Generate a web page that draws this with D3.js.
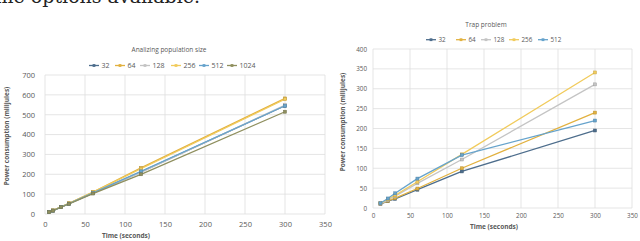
<!DOCTYPE html>
<html>
<head>
<meta charset="utf-8">
<script src="https://cdn.jsdelivr.net/npm/d3@7/dist/d3.min.js"></script>
<style>
  body { margin: 0; background: #fff; }
  svg text { font-family: "Open Sans", "Liberation Sans", sans-serif; fill: #595959; }
</style>
</head>
<body>
<div id="canvas"></div>
<script>
// left chart: analizing population size
var popTimes = [5, 10, 20, 30, 60, 120, 300];
var popNames = ["32", "64", "128", "256", "512", "1024"];
var pop32   = [9, 17, 35, 52, 105, 212, 545];
var pop64   = [9, 18, 36, 54, 110, 232, 582];
var pop128  = [9, 17, 35, 52, 106, 210, 548];
var pop256  = [9, 18, 36, 54, 110, 228, 578];
var pop512  = [9, 17, 35, 52, 106, 215, 545];
var pop1024 = [9, 17, 34, 51, 103, 200, 515];

// right chart: trap problem
var trapTimes = [10, 20, 30, 60, 120, 300];
var trapNames = ["32", "64", "128", "256", "512"];
var trap32  = [10, 17, 23, 46, 92, 195];
var trap64  = [11, 18, 25, 49, 100, 240];
var trap128 = [11, 20, 30, 62, 122, 311];
var trap256 = [12, 22, 32, 66, 135, 341];
var trap512 = [12, 24, 37, 74, 133, 220];

var xTicks = [0, 50, 100, 150, 200, 250, 300, 350];
var popYTicks = [0, 100, 200, 300, 400, 500, 600, 700];
var trapYTicks = [0, 50, 100, 150, 200, 250, 300, 350, 400];

var colors = {
  "32": "#4d6d8c", "64": "#e2b13f", "128": "#c4c4c4",
  "256": "#f1cb5c", "512": "#66a3cc", "1024": "#8f8f5e"
};

var svg = d3.select('#canvas').append('svg')
  .attr('width', 640)
  .attr('height', 241);

// cut-off line of body text above the figures
svg.append('text')
  .attr('x', 200).attr('y', 3)
  .attr('text-anchor', 'end')
  .style('font-family', '"DejaVu Serif", serif')
  .style('font-size', '19px')
  .style('fill', '#222')
  .text('some options available.');

var drawChart = function(opt) {
  var x = d3.scaleLinear().domain([0, 350]).range(opt.xr);
  var y = d3.scaleLinear().domain([0, opt.yMax]).range(opt.yr);
  var g = svg.append('g');

  // gridlines
  g.selectAll('.hg').data(opt.yTicks).enter().append('line')
    .attr('x1', opt.xr[0]).attr('x2', opt.xr[1])
    .attr('y1', function(d) { return y(d); })
    .attr('y2', function(d) { return y(d); })
    .attr('stroke', '#dedede').attr('stroke-width', 0.8);
  g.selectAll('.vg').data(xTicks).enter().append('line')
    .attr('y1', opt.yr[0]).attr('y2', opt.yr[1])
    .attr('x1', function(d) { return x(d); })
    .attr('x2', function(d) { return x(d); })
    .attr('stroke', '#dedede').attr('stroke-width', 0.8);

  // axes (labels only)
  var xa = g.append('g').attr('transform', 'translate(0,' + (opt.yr[0] + opt.xLabGap) + ')')
    .call(d3.axisBottom(x).tickValues(xTicks).tickSize(0));
  var ya = g.append('g').attr('transform', 'translate(' + (opt.xr[0] - opt.yLabGap) + ',0)')
    .call(d3.axisLeft(y).tickValues(opt.yTicks).tickSize(0));
  [xa, ya].forEach(function(a) {
    a.select('.domain').remove();
    a.selectAll('text').style('font-size', opt.tickSize + 'px')
      .style('font-family', '"Open Sans", sans-serif').attr('fill', '#595959');
  });

  // titles
  g.append('text').attr('x', opt.titleX).attr('y', opt.titleY)
    .attr('text-anchor', 'middle').style('font-size', '6.5px').text(opt.title);
  g.append('text').attr('x', opt.xTitleX).attr('y', opt.xTitleY)
    .attr('text-anchor', 'middle').style('font-size', '6.5px').style('font-weight', 'bold')
    .text('Time (seconds)');
  g.append('text')
    .attr('transform', 'translate(' + opt.yTitleX + ',' + opt.yTitleY + ') rotate(-90)')
    .attr('text-anchor', 'middle').style('font-size', '6.5px').style('font-weight', 'bold')
    .text('Power consumption (milijules)');

  // lines
  var line = d3.line()
    .x(function(d) { return x(d[0]); })
    .y(function(d) { return y(d[1]); });
  opt.names.forEach(function(name, i) {
    var pts = opt.times.map(function(t, j) { return [t, opt.series[i][j]]; });
    g.append('path').datum(pts)
      .attr('d', line)
      .attr('fill', 'none')
      .attr('stroke', colors[name])
      .attr('stroke-width', 1.3)
      .attr('stroke-linejoin', 'round');
    g.selectAll('.pt' + name).data(pts).enter().append('rect')
      .attr('x', function(d) { return x(d[0]) - 1.5; })
      .attr('y', function(d) { return y(d[1]) - 1.5; })
      .attr('width', 3).attr('height', 3)
      .attr('fill', colors[name])
      .attr('stroke', d3.color(colors[name]).darker(0.6))
      .attr('stroke-width', 0.5);
  });

  // legend
  var lg = g.append('g').attr('transform', 'translate(0,' + opt.legY + ')');
  opt.names.forEach(function(name, i) {
    var lx = opt.legX[i];
    lg.append('line').attr('x1', lx).attr('x2', lx + 10)
      .attr('y1', 0).attr('y2', 0)
      .attr('stroke', colors[name]).attr('stroke-width', 1.3);
    lg.append('rect').attr('x', lx + 3.6).attr('y', -1.4)
      .attr('width', 2.8).attr('height', 2.8).attr('fill', colors[name]);
    lg.append('text').attr('x', lx + 12.5).attr('y', 2.4)
      .style('font-size', opt.legSize + 'px').text(name);
  });
};

drawChart({
  times: popTimes, names: popNames,
  series: [pop32, pop64, pop128, pop256, pop512, pop1024],
  yMax: 700, yTicks: popYTicks,
  xr: [45, 325], yr: [214, 75],
  xLabGap: 5, yLabGap: 7, tickSize: 7.5,
  title: 'Analizing population size', titleX: 169, titleY: 52,
  xTitleX: 126, xTitleY: 238, yTitleX: 9, yTitleY: 136,
  legY: 65.5, legX: [89, 115, 140, 171, 199, 227], legSize: 7
});

drawChart({
  times: trapTimes, names: trapNames,
  series: [trap32, trap64, trap128, trap256, trap512],
  yMax: 400, yTicks: trapYTicks,
  xr: [373, 632], yr: [208, 49],
  xLabGap: 2.5, yLabGap: 3, tickSize: 6.3,
  title: 'Trap problem', titleX: 486, titleY: 27,
  xTitleX: 494, xTitleY: 229, yTitleX: 345, yTitleY: 122,
  legY: 39.7, legX: [426, 456, 481, 509, 538], legSize: 6.3
});
</script>
</body>
</html>
